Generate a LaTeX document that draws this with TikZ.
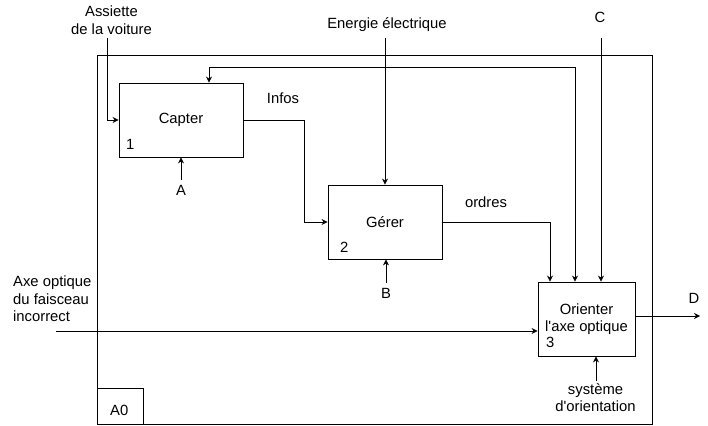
\documentclass[tikz,border=0pt]{standalone}
\usepackage{fontspec}
\setmainfont{Liberation Sans}
\usetikzlibrary{arrows.meta}

\begin{document}
\begin{tikzpicture}[x=1pt,y=-1pt,
  font=\fontsize{14.8}{17.5}\selectfont,
  >={Stealth[length=6pt,width=6pt,inset=2pt]},
  box/.style={draw,line width=0.9pt,minimum width=#1,minimum height=74pt,inner sep=0pt,align=center},
  num/.style={anchor=base west,inner sep=0pt},
  lbl/.style={inner sep=0pt,align=center},
  flow/.style={->,line width=0.8pt}]

\useasboundingbox (0,0) rectangle (708,425);

% Cadre du diagramme A0
\draw[line width=0.9pt] (97,55) rectangle (652,424);
\draw[line width=0.9pt] (97,388) rectangle (143,424);
\node[num] (a0) at (110,415) {A0};

% Les trois fonctions
\node[box=124pt] (capter) at (181,120) {Capter};
\node[box=114pt] (gerer) at (385,222) {Gérer};
\node[box=97pt] (orienter) at (586.5,319) {Orienter\\l\textquotesingle axe optique};

\node[num] (n1) at (126,149) {1};
\node[num] (n2) at (340,252) {2};
\node[num] (n3) at (546,347) {3};

% Textes des fleches
\node[lbl,anchor=north] (assiette) at (111.5,6) {Assiette\\de la voiture};
\node[lbl,anchor=base] (energie) at (387,29) {Energie électrique};
\node[lbl,anchor=base] (c) at (600,23) {C};
\node[lbl,anchor=base] (infos) at (283,103) {Infos};
\node[lbl,anchor=base] (ordres) at (486,207) {ordres};
\node[lbl,anchor=base] (a) at (181,195) {A};
\node[lbl,anchor=base] (b) at (386,298) {B};
\node[lbl,anchor=base] (d) at (694,303) {D};
\node[lbl,anchor=north west,align=left] (axe) at (13,276) {Axe optique\\du faisceau\\incorrect};
\node[lbl,anchor=north] (systeme) at (595.5,383) {système\\d\textquotesingle orientation};

% Entrees et controles
\coordinate (assiette in) at (107,38);
\draw[flow] (assiette in) |- (capter.west);

\coordinate (energie in) at (385,38);
\draw[flow] (energie in) -- (energie in |- gerer.north);

\coordinate (c in) at (601,38);
\draw[flow] (c in) -- (c in |- orienter.north);

\coordinate (retour) at (575,67);
\draw[<->,line width=0.8pt] ([xshift=28pt]capter.north) |- (retour) -- (retour |- orienter.north);

% Liaisons entre fonctions
\coordinate (infos coude) at (304,0);
\draw[flow] (capter.east) -- (capter.east -| infos coude) |- (gerer.west);

\coordinate (ordres coude) at (550,0);
\draw[flow] (gerer.east) -| (ordres coude |- orienter.north);

% Mecanismes
\coordinate (a in) at (181,180);
\draw[flow] (a in) -- (capter.south);
\coordinate (b in) at (386,283);
\draw[flow] (b in) -- (b in |- gerer.south);
\coordinate (sys in) at (596,381);
\draw[flow] (sys in) -- (sys in |- orienter.south);

% Entree et sortie principales
\coordinate (axe in) at (56,331);
\draw[flow] (axe in) -- (axe in -| orienter.west);
\coordinate (d out) at (700,316);
\draw[flow] (d out -| orienter.east) -- (d out);

\end{tikzpicture}
\end{document}
